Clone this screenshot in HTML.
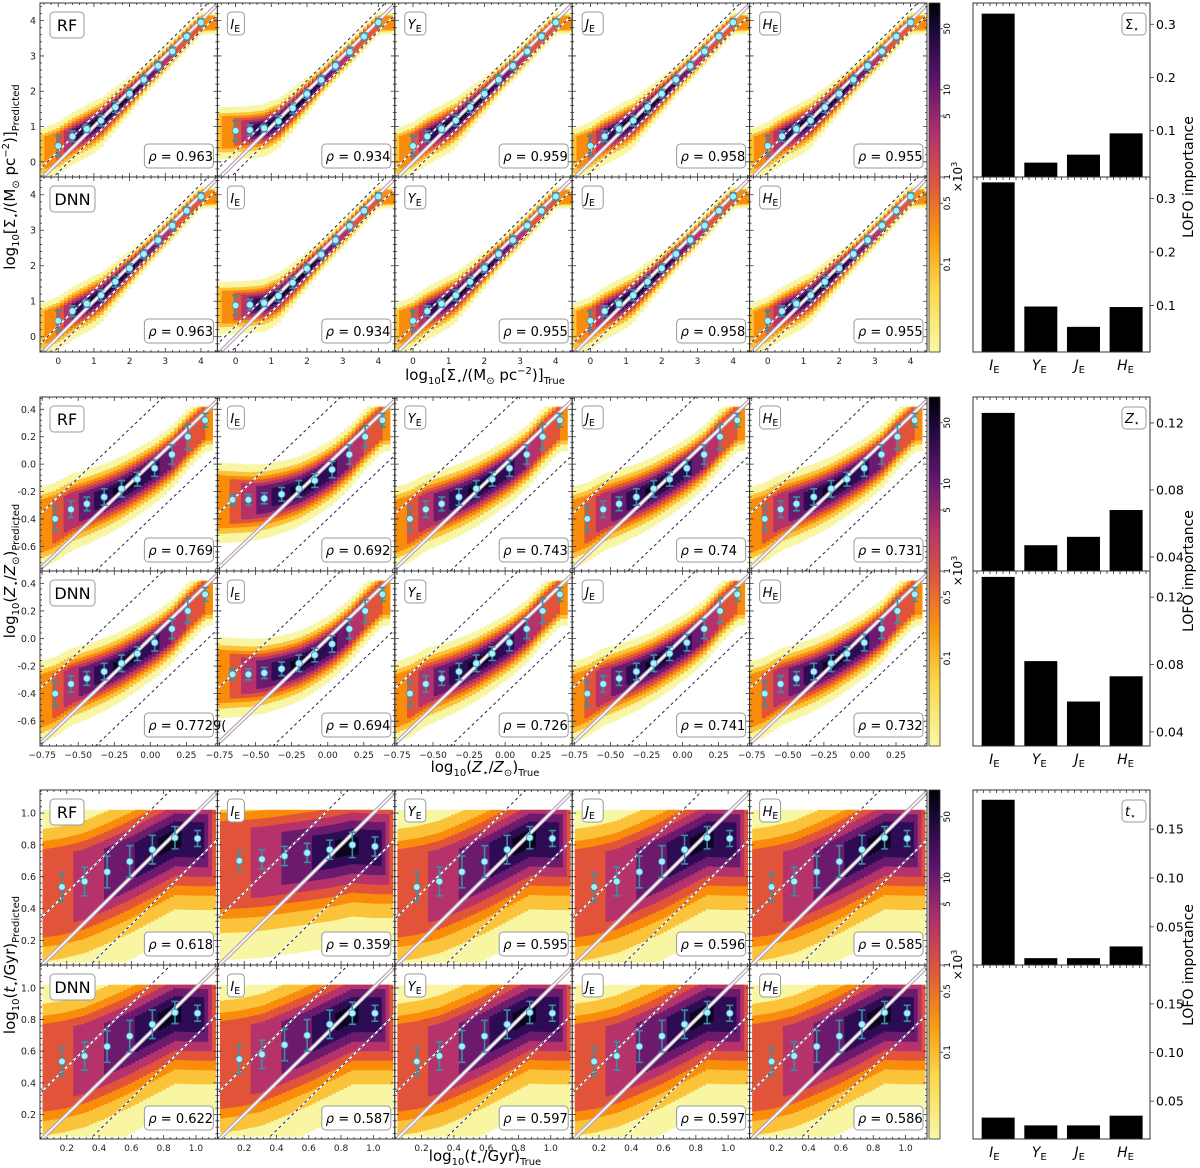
<!DOCTYPE html>
<html><head><meta charset="utf-8">
<style>
html,body{margin:0;padding:0;background:#fff;overflow:hidden;}
svg{display:block;font-family:"DejaVu Sans","Liberation Sans",sans-serif;}
</style></head>
<body>
<svg id="fig" width="1200" height="1168" viewBox="0 0 1200 1168" xmlns="http://www.w3.org/2000/svg"></svg>
<script>
// ---------- DATA ----------
const bandNames = ["all","I","Y","J","H"];
const modelNames = ["RF","DNN"];
// Block 1: surface density
const sigBinX = [0,0.4,0.8,1.2,1.6,2.0,2.4,2.8,3.2,3.6,4.0];
const sigMeanAll = [0.45,0.72,0.93,1.17,1.55,1.93,2.33,2.72,3.13,3.55,3.95];
const sigMeanIE = [0.88,0.9,0.95,1.15,1.52,1.92,2.32,2.72,3.12,3.55,3.95];
const sigErr = [0.28,0.15,0.1,0.15,0.15,0.12,0.12,0.12,0.12,0.1,0.1];
const sigRhoRF = ["0.963","0.934","0.959","0.958","0.955"];
const sigRhoDNN = ["0.963","0.934","0.955","0.958","0.955"];
const sigBarRF = [0.32,0.04,0.055,0.095];
const sigBarDNN = [0.33,0.098,0.06,0.097];
const sigXTicks = [0,1,2,3,4];
const sigYTicks = [0,1,2,3,4];
const sigBarTicks = [0.1,0.2,0.3];
// Block 2: metallicity
const zBinX = [-0.66,-0.55,-0.44,-0.32,-0.2,-0.09,0.03,0.15,0.26,0.38];
const zMeanAll = [-0.4,-0.33,-0.29,-0.24,-0.18,-0.11,-0.03,0.07,0.2,0.32];
const zMeanIE = [-0.26,-0.26,-0.25,-0.22,-0.18,-0.12,-0.04,0.07,0.2,0.32];
const zErr = [0.09,0.06,0.05,0.06,0.06,0.05,0.06,0.07,0.09,0.05];
const zErrIE = [0.04,0.04,0.04,0.05,0.06,0.05,0.06,0.07,0.08,0.05];
const zRhoRF = ["0.769","0.692","0.743","0.74","0.731"];
const zRhoDNN = ["0.7729(","0.694","0.726","0.741","0.732"];
const zBarRF = [0.126,0.047,0.052,0.068];
const zBarDNN = [0.132,0.082,0.058,0.073];
const zXTicks = [-0.75,-0.5,-0.25,0,0.25];
const zXTickLabels = ["\u22120.75","\u22120.50","\u22120.25","0.00","0.25"];
const zYTicks = [-0.6,-0.4,-0.2,0,0.2,0.4];
const zYTickLabels = ["-0.6","-0.4","-0.2","0.0","0.2","0.4"];
const zBarTicks = [0.04,0.08,0.12];
// Block 3: age
const tBinX = [0.17,0.31,0.45,0.59,0.73,0.87,1.01];
const tMeanAll = [0.535,0.57,0.63,0.695,0.77,0.845,0.84];
const tMeanIERF = [0.7,0.71,0.73,0.75,0.77,0.8,0.79];
const tMeanIEDNN = [0.55,0.58,0.64,0.70,0.77,0.84,0.84];
const tErr = [0.09,0.09,0.1,0.1,0.09,0.07,0.05];
const tErrIE = [0.06,0.06,0.06,0.06,0.06,0.08,0.06];
const tRhoRF = ["0.618","0.359","0.595","0.596","0.585"];
const tRhoDNN = ["0.622","0.587","0.597","0.597","0.586"];
const tBarRF = [0.18,0.018,0.018,0.03];
const tBarDNN = [0.033,0.025,0.025,0.035];
const tXTicks = [0.2,0.4,0.6,0.8,1.0];
const tYTicks = [0.2,0.4,0.6,0.8,1.0];
const tBarTicks = [0.05,0.10,0.15];
const cbTicks = [50,10,5,1,0.5,0.1];
const cbTickLabels = ["50","10","5","1","0.5","0.1"];

// ---------- LAYOUT ----------
const NS="http://www.w3.org/2000/svg";
const svg=document.getElementById('fig');
function mk(tag,attrs,parent){const e=document.createElementNS(NS,tag);for(const k in attrs)e.setAttribute(k,attrs[k]);(parent||svg).appendChild(e);return e;}
const X0=40, PW=177.4, BX0=973, BX1=1150;
const layerCols=['#f8f6a2','#fbc33a','#f98c0a','#e2543a','#b5326a','#6b1a6e','#2e0b55','#0b0620'];

const blocks=[
 {key:'sig',top:3,mid:177,bot:352,xr:[-0.51,4.46],yr:[-0.43,4.5],bins:sigBinX,
  means:[[sigMeanAll,sigMeanIE,sigMeanAll,sigMeanAll,sigMeanAll],[sigMeanAll,sigMeanIE,sigMeanAll,sigMeanAll,sigMeanAll]],
  errs:[[sigErr,sigErr,sigErr,sigErr,sigErr],[sigErr,sigErr,sigErr,sigErr,sigErr]],
  rhos:[sigRhoRF,sigRhoDNN],bars:[sigBarRF,sigBarDNN],barR:[0.013,0.34],barTicks:sigBarTicks,barLab:['0.1','0.2','0.3'],
  xt:sigXTicks,xtl:sigXTicks.map(String),yt:sigYTicks,ytl:sigYTicks.map(String),off:0.3,
  hw:[0.8,0.6,0.5,0.42,0.34,0.26,0.18,0.1],cap:[-9,9],xspan:[-0.5,4.45],
  wprof:[[-0.5,1],[1,1],[2.5,0.55],[4.45,0.4]],
  iprof:[[-0.5,0.25],[0,0.45],[0.6,0.85],[1.0,1],[2.0,1],[3.0,0.6],[4.0,0.45],[4.45,0.3]],
  sym:'\u03A3'},
 {key:'z',top:397,mid:571,bot:746,xr:[-0.765,0.465],yr:[-0.78,0.49],bins:zBinX,
  means:[[zMeanAll,zMeanIE,zMeanAll,zMeanAll,zMeanAll],[zMeanAll,zMeanIE,zMeanAll,zMeanAll,zMeanAll]],
  errs:[[zErr,zErrIE,zErr,zErr,zErr],[zErr,zErrIE,zErr,zErr,zErr]],
  rhos:[zRhoRF,zRhoDNN],bars:[zBarRF,zBarDNN],barR:[0.0316,0.1355],barTicks:zBarTicks,barLab:['0.04','0.08','0.12'],
  xt:zXTicks,xtl:zXTickLabels,yt:zYTicks,ytl:zYTickLabels,off:0.4,
  hw:[0.32,0.25,0.21,0.18,0.15,0.12,0.08,0.04],cap:[-0.75,0.42],xspan:[-0.76,0.43],
  wprof:[[-0.76,1],[0.43,0.7]],
  iprof:[[-0.76,0.3],[-0.6,0.55],[-0.4,0.8],[-0.2,1],[0,0.9],[0.2,0.6],[0.43,0.4]],
  sym:'Z'},
 {key:'t',top:790,mid:965,bot:1139,xr:[0.034,1.133],yr:[0.045,1.145],bins:tBinX,
  means:[[tMeanAll,tMeanIERF,tMeanAll,tMeanAll,tMeanAll],[tMeanAll,tMeanIEDNN,tMeanAll,tMeanAll,tMeanAll]],
  errs:[[tErr,tErrIE,tErr,tErr,tErr],[tErr,tErr,tErr,tErr,tErr]],
  rhos:[tRhoRF,tRhoDNN],bars:[tBarRF,tBarDNN],barR:[0.011,0.19],barTicks:tBarTicks,barLab:['0.05','0.10','0.15'],
  xt:tXTicks,xtl:['0.2','0.4','0.6','0.8','1.0'],yt:tYTicks,ytl:['0.2','0.4','0.6','0.8','1.0'],off:0.3,
  hw:[0.62,0.45,0.36,0.3,0.24,0.18,0.12,0.06],cap:[0.06,1.02],xspan:[0.05,1.12],
  wprof:[[0.05,1],[1.12,1]],
  iprof:[[0.05,0.45],[0.3,0.6],[0.6,0.8],[0.85,1],[1.05,0.8],[1.12,0.5]],
  sym:'t'}
];

function interp(xs,ys,x){
  if(x<=xs[0]){const s=(ys[1]-ys[0])/(xs[1]-xs[0]);return ys[0]+(x-xs[0])*s*0.6;}
  const n=xs.length-1;
  if(x>=xs[n]){return ys[n];}
  for(let i=0;i<n;i++){if(x<=xs[i+1]){const t=(x-xs[i])/(xs[i+1]-xs[i]);return ys[i]+t*(ys[i+1]-ys[i]);}}
}
function prof(p,x){
  if(x<=p[0][0])return p[0][1];
  for(let i=0;i<p.length-1;i++){if(x<=p[i+1][0]){const t=(x-p[i][0])/(p[i+1][0]-p[i][0]);return p[i][1]+t*(p[i+1][1]-p[i][1]);}}
  return p[p.length-1][1];
}

function bandLabel(g,x,y,band,fs){
  const t=mk('text',{x:x,y:y,'font-size':fs},g);
  const a=mk('tspan',{'font-style':'italic'},t);a.textContent=band;
  const b=mk('tspan',{'font-size':fs*0.72,'baseline-shift':-fs*0.2},t);b.textContent='E';
  return t;
}

blocks.forEach((B,bi)=>{
  const rows=[[B.top,B.mid],[B.mid,B.bot]];
  rows.forEach((R,ri)=>{
    const py0=R[0],py1=R[1];
    for(let ci=0;ci<5;ci++){
      const px0=X0+ci*PW,px1=px0+PW;
      const sx=v=>px0+(v-B.xr[0])/(B.xr[1]-B.xr[0])*PW;
      const sy=v=>py1-(v-B.yr[0])/(B.yr[1]-B.yr[0])*(py1-py0);
      const g=mk('g',{});
      
      
      const cid='c'+bi+ri+ci;
      const cp=mk('clipPath',{id:cid},g);mk('rect',{x:px0,y:py0,width:PW,height:py1-py0},cp);
      const hg=mk('g',{'clip-path':'url(#'+cid+')'},g);
      
      
      const means=B.means[ri][ci],errs=B.errs[ri][ci];
      const NC=45;const dx=(B.xspan[1]-B.xspan[0])/NC;
      const NL=layerCols.length;
      for(let L=0;L<NL;L++){
        let d='';
        for(let k=0;k<NC;k++){
          const xc=B.xspan[0]+(k+0.5)*dx;
          const lev=prof(B.iprof,xc);
          if(L>=Math.round(lev*NL))continue;
          const c=interp(B.bins,means,xc);
          const h=B.hw[L]*prof(B.wprof,xc);
          let lo=Math.max(c-h,B.cap[0]),hi=Math.min(c+h*0.85,B.cap[1]);
          if(hi<=lo)continue;
          const x0=sx(B.xspan[0]+k*dx),x1=sx(B.xspan[0]+(k+1)*dx)+0.5;
          d+='M'+x0.toFixed(1)+' '+sy(hi).toFixed(1)+'H'+x1.toFixed(1)+'V'+sy(lo).toFixed(1)+'H'+x0.toFixed(1)+'Z';
        }
        if(d)mk('path',{d:d,fill:layerCols[L]},hg);
      }
      const a=B.xr[0]-1,b=B.xr[1]+1;
      [B.off,-B.off].forEach(o=>{
        mk('line',{x1:sx(a),y1:sy(a+o),x2:sx(b),y2:sy(b+o),stroke:'#fff',"stroke-width":1.6},hg);
        mk('line',{x1:sx(a),y1:sy(a+o),x2:sx(b),y2:sy(b+o),stroke:'#222244',"stroke-width":1,"stroke-dasharray":'3,3'},hg);
      });
      mk('line',{x1:sx(a),y1:sy(a),x2:sx(b),y2:sy(b),stroke:'#b9a6b8',"stroke-width":4},hg);
      mk('line',{x1:sx(a),y1:sy(a),x2:sx(b),y2:sy(b),stroke:'#fff',"stroke-width":1.6},hg);
      B.bins.forEach((bx,k)=>{
        const X=sx(bx),Y=sy(means[k]),E=errs[k];
        const eb=mk('g',{},hg);
        
        
        mk('line',{x1:X,y1:sy(means[k]+E),x2:X,y2:sy(means[k]-E),stroke:'#3b8ea5',"stroke-width":1.6},eb);
        mk('line',{x1:X-3.5,y1:sy(means[k]+E),x2:X+3.5,y2:sy(means[k]+E),stroke:'#3b8ea5',"stroke-width":1.6},eb);
        mk('line',{x1:X-3.5,y1:sy(means[k]-E),x2:X+3.5,y2:sy(means[k]-E),stroke:'#3b8ea5',"stroke-width":1.6},eb);
        mk('circle',{cx:X,cy:Y,r:3.4,fill:'#a4f0ff',stroke:'#3b8ea5',"stroke-width":0.8},eb);
      });
      mk('rect',{x:px0,y:py0,width:PW,height:py1-py0,fill:'none',stroke:'#333','stroke-width':1},g);
      const tk=[];
      B.xt.forEach(v=>{const X=sx(v);tk.push('M'+X+' '+py1+'v-4M'+X+' '+py0+'v4');});
      B.yt.forEach(v=>{const Y=sy(v);tk.push('M'+px0+' '+Y+'h4M'+px1+' '+Y+'h-4');});
      const st=(B.xt[1]-B.xt[0])/5;
      for(let v=B.xt[0]-5*st;v<B.xr[1];v+=st){if(v<B.xr[0])continue;const X=sx(v);tk.push('M'+X+' '+py1+'v-2M'+X+' '+py0+'v2');}
      const sty=(B.yt[1]-B.yt[0])/5;
      for(let v=B.yt[0]-5*sty;v<B.yr[1];v+=sty){if(v<B.yr[0])continue;const Y=sy(v);tk.push('M'+px0+' '+Y+'h2M'+px1+' '+Y+'h-2');}
      mk('path',{d:tk.join(''),stroke:'#333','stroke-width':0.8,fill:'none'},g);
      if(ci===0){
        B.yt.forEach((v,k)=>{const t=mk('text',{x:px0-4,y:sy(v)+3.5,'font-size':9.5,'text-anchor':'end',fill:'#222'},g);t.textContent=B.ytl[k];
          });
      }
      if(ri===1){
        B.xt.forEach((v,k)=>{const t=mk('text',{x:sx(v),y:py1+12,'font-size':9,'text-anchor':'middle',fill:'#222'},g);t.textContent=B.xtl[k];
          });
      }
      if(ci===0){
        const txt=modelNames[ri];const w=txt.length*11+12;
        const lb=mk('g',{},g);
        mk('rect',{x:px0+10,y:py0+9,width:w,height:26,rx:4,fill:'#fff',stroke:'#999','stroke-width':1},lb);
        const t=mk('text',{x:px0+10+w/2,y:py0+28,'font-size':16,'text-anchor':'middle'},lb);t.textContent=txt;
      } else {
        const lb=mk('g',{},g);
        mk('rect',{x:px0+10,y:py0+9,width:17+(ci>1?4:0),height:23,rx:4,fill:'#fff',stroke:'#999','stroke-width':1},lb);
        bandLabel(lb,px0+13,py0+26,bandNames[ci],13);
      }
      const rb=mk('g',{},g);
      mk('rect',{x:px1-73,y:py1-33,width:69,height:24,rx:4,fill:'#fff',stroke:'#999','stroke-width':1},rb);
      const rt=mk('text',{x:px1-69,y:py1-16,'font-size':13},rb);
      const r1=mk('tspan',{'font-style':'italic'},rt);r1.textContent='\u03C1';
      const r2=mk('tspan',{},rt);r2.textContent=' = '+B.rhos[ri][ci];
    }
  });
  const cbx=929,cbw=11;
  const cg=mk('g',{});
  const gid='cbg'+bi;
  const lg=mk('linearGradient',{id:gid,x1:0,y1:1,x2:0,y2:0},cg);
  [['0','#f9f8a6'],['0.18','#fbd84a'],['0.33','#f99a10'],['0.48','#e0573b'],['0.62','#b3326b'],['0.78','#5c136e'],['0.92','#1a0838'],['1','#000004']].forEach(s=>mk('stop',{offset:s[0],'stop-color':s[1]},lg));
  mk('rect',{x:cbx,y:B.top,width:cbw,height:B.bot-B.top,fill:'url(#'+gid+')',stroke:'#333','stroke-width':0.8},cg);
  const H=B.bot-B.top, ppd=H/4.0, y1=B.mid;
  cbTicks.forEach((v,k)=>{
    const Y=y1-Math.log10(v)*ppd;
    mk('line',{x1:cbx+cbw,y1:Y,x2:cbx+cbw+3,y2:Y,stroke:'#333','stroke-width':0.8},cg);
    const t=mk('text',{x:0,y:0,'font-size':9,'text-anchor':'middle',transform:'translate('+(cbx+cbw+10)+','+Y+') rotate(-90)'},cg);t.textContent=cbTickLabels[k];
  });
  const xt=mk('text',{x:0,y:0,'font-size':12,'text-anchor':'middle',transform:'translate(962,'+B.mid+') rotate(-90)'},cg);
  xt.textContent='\u00D710';const sup=mk('tspan',{'font-size':8,'baseline-shift':5},xt);sup.textContent='3';
  [[B.top,B.mid],[B.mid,B.bot]].forEach((R,ri)=>{
    const g=mk('g',{});
    const sy=v=>R[1]-(v-B.barR[0])/(B.barR[1]-B.barR[0])*(R[1]-R[0]);
    const cx=i=>BX0+(i+0.59)/4.15*(BX1-BX0);
    B.bars[ri].forEach((v,i)=>{
      const r=mk('rect',{x:cx(i)-16.5,y:sy(v),width:33,height:R[1]-sy(v),fill:'#000'},g);
      
    });
    mk('rect',{x:BX0,y:R[0],width:BX1-BX0,height:R[1]-R[0],fill:'none',stroke:'#333','stroke-width':1},g);
    const tk=[];
    B.barTicks.forEach((v,k)=>{const Y=sy(v);tk.push('M'+BX1+' '+Y+'h4');
      const t=mk('text',{x:BX1+6,y:Y+4.5,'font-size':12.5},g);t.textContent=B.barLab[k];});
    for(let x=BX0+4;x<BX1;x+=6.5){tk.push('M'+x+' '+R[0]+'v3');}
    mk('path',{d:tk.join(''),stroke:'#333','stroke-width':0.8},g);
    if(ri===0){
      mk('rect',{x:BX1-28,y:R[0]+10,width:24,height:22,rx:4,fill:'#fff',stroke:'#999'},g);
      const t=mk('text',{x:BX1-25,y:R[0]+26,'font-size':13},g);
      const a=mk('tspan',{'font-style':B.sym==='\u03A3'?'normal':'italic'},t);a.textContent=B.sym;
      const b=mk('tspan',{'font-size':9,'baseline-shift':-3},t);b.textContent='\u22C6';
    } else {
      ['I','Y','J','H'].forEach((n,i)=>{bandLabel(g,cx(i)-9,R[1]+18,n,14);});
    }
  });
  const yl=mk('text',{x:0,y:0,'font-size':14,'text-anchor':'middle',transform:'translate(1193,'+B.mid+') rotate(-90)'});
  yl.textContent='LOFO importance';
  
});

function axTitle(txt,x,y,rot,name){
  const t=mk('text',{x:0,y:0,'font-size':15,'text-anchor':'middle',transform:'translate('+x+','+y+')'+(rot?' rotate(-90)':'')});
  t.innerHTML=txt;
  
}
const sub=(s)=>'<tspan font-size="10" baseline-shift="-4">'+s+'</tspan>';
const sup=(s)=>'<tspan font-size="10" baseline-shift="6">'+s+'</tspan>';
const sigT='log'+sub('10')+'[\u03A3'+sub('\u22C6')+'/(M'+sub('\u2299')+' pc'+sup('\u22122')+')]';
axTitle(sigT+sub('Predicted'),15,177,true,'y-axis-title-sigma');
axTitle(sigT+sub('True'),485,380,false,'x-axis-title-sigma');
const zT='log'+sub('10')+'(<tspan font-style="italic">Z</tspan>'+sub('\u22C6')+'/<tspan font-style="italic">Z</tspan>'+sub('\u2299')+')';
axTitle(zT+sub('Predicted'),15,571,true,'y-axis-title-z');
axTitle(zT+sub('True'),485,772,false,'x-axis-title-z');
const tT='log'+sub('10')+'(<tspan font-style="italic">t</tspan>'+sub('\u22C6')+'/Gyr)';
axTitle(tT+sub('Predicted'),15,965,true,'y-axis-title-t');
axTitle(tT+sub('True'),485,1161,false,'x-axis-title-t');
</script>
</body></html>
